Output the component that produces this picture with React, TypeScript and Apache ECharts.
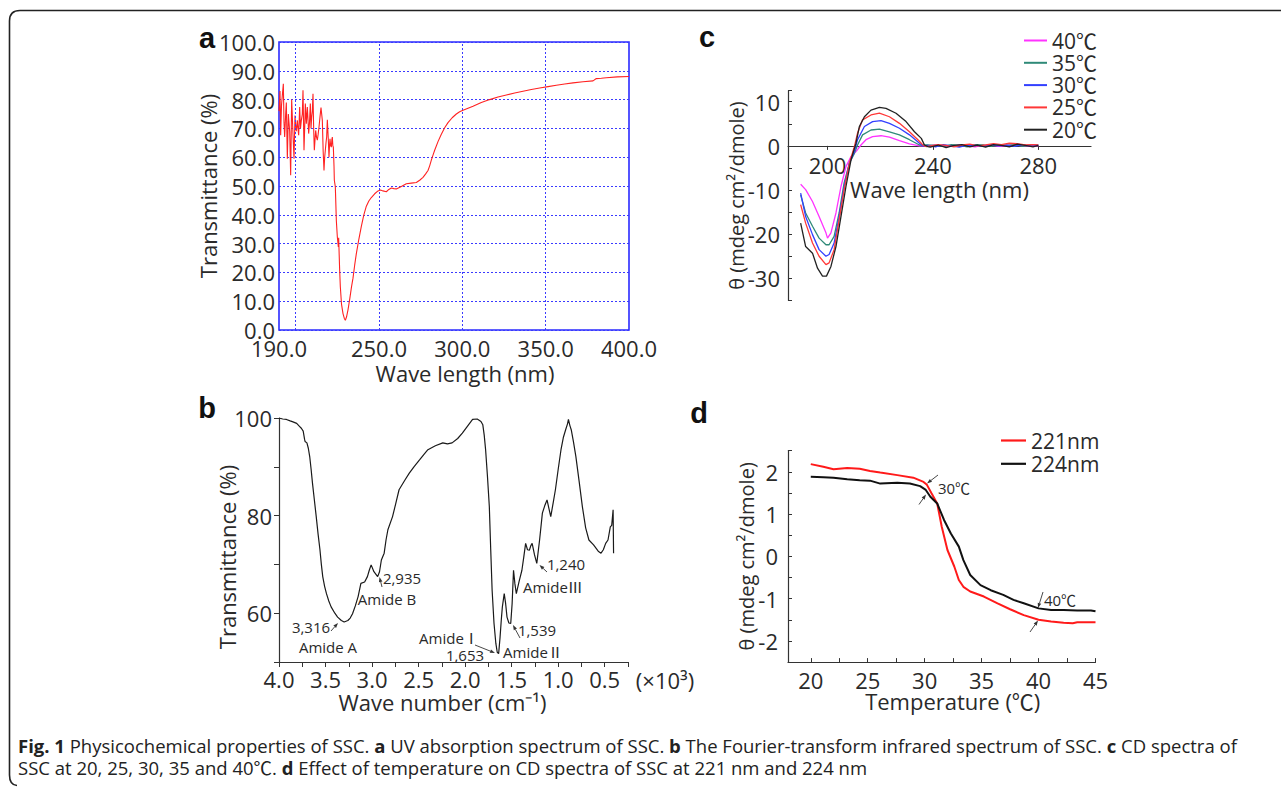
import React, { useEffect, useRef } from "react";
import * as echarts from "echarts";

// ---------- DATA ----------
// Panel a: UV spectrum [wavelength nm, transmittance %]
const uvSpectrum: [number, number][] = [
  [190, 76], [190.6, 83], [191, 67.6], [191.5, 78], [192, 81.5], [192.6, 85.5], [193, 72], [193.4, 67], [194, 75], [194.4, 79],
  [195, 59.5], [195.6, 75], [196, 72], [196.4, 69], [197, 53.7], [197.6, 80], [198, 74], [198.4, 68], [199, 59.5], [199.6, 74.5],
  [200, 71], [200.4, 69], [201, 72.8], [201.4, 70], [201.8, 67.6], [202.4, 77.4], [202.9, 70], [203.4, 72.8], [204, 75], [204.4, 83.2],
  [205, 62.4], [205.4, 70], [205.8, 78.6], [206.4, 71.6], [207, 77.4], [207.4, 73], [207.8, 68.2], [208.3, 72], [208.8, 78.6], [209.2, 70],
  [209.6, 74], [210, 76], [210.4, 82], [210.8, 70], [211.2, 62.4], [211.6, 66], [212, 69.3], [212.5, 67], [213, 65.9], [213.5, 68],
  [214, 70.5], [214.6, 74], [215.2, 77.2], [215.6, 75], [216, 72.8], [216.5, 62], [217, 55.4], [217.4, 60], [217.8, 62.4], [218.2, 65],
  [218.6, 67], [219, 73], [219.2, 72.8], [219.6, 66], [220, 60], [220.3, 64], [220.6, 66.4], [221, 64], [221.4, 63.5], [221.7, 66],
  [222, 67], [222.3, 64], [222.6, 63.5], [223, 57], [223.2, 52], [223.8, 49.7], [224.4, 38], [225, 32.3], [225.6, 28.8], [225.8, 32],
  [226.4, 20.7], [226.8, 15], [227.5, 9], [228.4, 5.7], [229.2, 4], [229.8, 3.4], [230.5, 4.5], [231.4, 7], [232.5, 11], [233.5, 15],
  [234.4, 18], [235.4, 22.5], [236.4, 26.5], [237.9, 31.5], [239.4, 36], [240.9, 40], [242.4, 43], [243.9, 44.8], [245.4, 46], [247.4, 47.3],
  [249.4, 48.3], [250.9, 48.6], [252.4, 48.3], [254.4, 48], [255.9, 48.8], [257.4, 49.3], [259, 49.1], [260.4, 49], [263.4, 49.8], [266.4, 50.8],
  [269.4, 51], [272.4, 51.2], [274.4, 52], [276.4, 53], [278, 54.2], [279.4, 55.4], [280.4, 57], [281.4, 59], [282.4, 60.7], [283.4, 62.4],
  [285.4, 65.4], [287.4, 68], [289.4, 70.2], [291.4, 72], [293.9, 73.7], [296.4, 75], [298.4, 75.8], [300.4, 76.3], [303.4, 77], [306.4, 77.7],
  [311.4, 79], [316.4, 80], [321.4, 80.9], [326.4, 81.6], [331.4, 82.3], [336.4, 82.9], [341.4, 83.5], [346.4, 84], [351.4, 84.5], [356.4, 85],
  [361.4, 85.4], [366.4, 85.8], [372.4, 86.2], [378.4, 86.5], [380.4, 87.3], [383.4, 87.4], [386.4, 87.6], [393, 87.9], [400, 88],
];
const uvXLabels = [190, 250, 300, 350, 400];
const uvXGrid = [200, 250, 300, 350];

// Panel b: FTIR spectrum [wave number ×10³ cm⁻¹, transmittance %]
const irSpectrum: [number, number][] = [
  [4.0, 100], [3.96, 99.8], [3.92, 99.7], [3.88, 99.4], [3.85, 99.2], [3.81, 98.9], [3.78, 98.3], [3.76, 97.9], [3.74, 97.3], [3.725, 95.6],
  [3.72, 95.2], [3.7, 94.9], [3.685, 93.8], [3.67, 92.1], [3.655, 89.5], [3.64, 86.6], [3.62, 83.2], [3.6, 79.8], [3.58, 76.2], [3.56, 73],
  [3.545, 70], [3.53, 67.5], [3.51, 65.5], [3.49, 64], [3.465, 62.5], [3.44, 61.3], [3.4, 60], [3.37, 59.2], [3.33, 58.5], [3.3, 58.2],
  [3.26, 58.5], [3.235, 59], [3.21, 59.9], [3.18, 61.5], [3.15, 63.4], [3.12, 66.1], [3.08, 66.4], [3.05, 67.5], [3.03, 68.8], [3.01, 69.9],
  [2.98, 68.5], [2.94, 67.5], [2.92, 68.5], [2.9, 70.9], [2.87, 72.3], [2.85, 75], [2.83, 77.1], [2.78, 79.8], [2.745, 82.5], [2.71, 85.3],
  [2.65, 87.2], [2.6, 88.7], [2.55, 90], [2.49, 91.4], [2.44, 92.6], [2.4, 93.5], [2.32, 94.3], [2.24, 94.9], [2.19, 94.7], [2.14, 94.9],
  [2.08, 95.8], [2.03, 96.9], [1.98, 98.2], [1.92, 99.7], [1.87, 99.8], [1.83, 99.3], [1.81, 98.6], [1.795, 96.5], [1.78, 93.5], [1.76, 88],
  [1.74, 81.8], [1.725, 73], [1.71, 64.7], [1.69, 58], [1.67, 53.8], [1.655, 52], [1.64, 51.7], [1.625, 55], [1.61, 59], [1.6, 61.3],
  [1.58, 64], [1.565, 62], [1.55, 59.2], [1.53, 58], [1.51, 57.9], [1.495, 62], [1.48, 68.8], [1.465, 66], [1.45, 64], [1.42, 66.5],
  [1.39, 68.8], [1.37, 71.5], [1.35, 74.3], [1.33, 73], [1.31, 72.9], [1.295, 73.8], [1.28, 74.3], [1.255, 72], [1.23, 70.2], [1.2, 75],
  [1.17, 80.5], [1.145, 82], [1.12, 83.2], [1.1, 81.5], [1.08, 79.8], [1.055, 82.5], [1.03, 85.3], [1.0, 89.5], [0.97, 93.5], [0.945, 96],
  [0.92, 97.6], [0.9, 98.8], [0.89, 99.7], [0.875, 98.5], [0.86, 97.6], [0.835, 95], [0.81, 92.1], [0.775, 87], [0.74, 81.8], [0.705, 77.5],
  [0.67, 75], [0.62, 74], [0.57, 72.7], [0.54, 72.3], [0.515, 73], [0.49, 74.3], [0.465, 75], [0.44, 77.7], [0.425, 78], [0.41, 81.2], [0.405, 72.3],
];
const irYLabels = [60, 80, 100];

// Panel c: CD spectra [wavelength nm, θ]
const cdNames = ["40℃", "35℃", "30℃", "25℃", "20℃"];
const cd40: [number, number][] = [
  [189.8, -8.7], [191.7, -9.9], [194.3, -12.6], [196.8, -16], [199.4, -19.7], [200, -20.9], [201.3, -19.7], [203.2, -15.2], [205.1, -9.2],
  [207, -4.7], [208.9, -2.4], [210.8, -1.3], [212.7, 0.2], [214.6, 1.4], [217.1, 2.1], [220.3, 2.3], [223.5, 2], [227.3, 1.2], [231.1, 0.45],
  [234.9, 0], [238, 0], [241, 0.2], [244, 0], [247, -0.1], [250, 0.2], [253, 0], [256, -0.2], [259, 0.1], [262, 0.2], [265, -0.1], [268, 0],
  [271, 0.2], [274, 0], [277, -0.1], [280, 0],
];
const cd35: [number, number][] = [
  [189.8, -11.1], [191.7, -15.2], [194.3, -18.2], [196.8, -20.9], [199.4, -22.4], [200.6, -22.4], [202.5, -20.5], [204.4, -15.2], [206.3, -8.4],
  [208.3, -3.9], [210.2, -1.7], [211.4, 0.2], [213.3, 2.5], [216.5, 3.6], [219.7, 3.8], [223.5, 3.2], [227.3, 2.5], [231.1, 1.4], [234.9, 0.2],
  [238, 0.2], [241, 0.1], [244, -0.1], [247, 0.3], [250, 0.1], [253, -0.2], [256, 0.3], [259, 0.2], [262, -0.1], [265, 0.2], [268, 0.1],
  [271, 0.3], [274, -0.1], [277, 0.2], [280, 0.1],
];
const cd30: [number, number][] = [
  [189.8, -10.7], [191.7, -16], [194.3, -20.1], [196.8, -23.5], [199.4, -25], [200.6, -24.6], [202.5, -22], [204.4, -16], [206.3, -9.2],
  [208.3, -3.9], [210.2, -1.3], [211.4, 1.4], [214, 4.4], [217.1, 5.5], [220.3, 5.7], [223.5, 5.1], [227.3, 4], [231.1, 2.5], [234.9, 0.6],
  [236.2, 0], [238, 0.1], [241, -0.2], [244, 0.3], [247, 0], [250, -0.3], [253, 0.2], [256, 0.1], [259, -0.1], [262, 0.3], [265, 0],
  [268, 0.2], [271, -0.1], [274, 0.3], [277, 0], [280, 0.2],
];
const cd25: [number, number][] = [
  [189.8, -13.3], [191.7, -17.5], [194.3, -22], [196.8, -25], [199.4, -26.9], [200.6, -26.5], [202.5, -23.5], [204.4, -16.7], [206.3, -9.9],
  [208.3, -3.9], [210.2, -0.15], [211.4, 2.9], [213.3, 5.9], [216.5, 7], [219.7, 7.4], [223.5, 6.6], [227.3, 5.1], [231.1, 3.2], [234.3, 1.4],
  [236.2, 0.2], [237.5, -0.15], [239, 0], [242, 0.3], [245, 0.1], [248, -0.2], [251, 0.2], [254, 0.4], [257, 0], [260, 0.2], [263, 0.5],
  [266, 0.3], [269, 0.6], [272, 0.5], [275, 0.2], [278, 0.3], [280, 0.2],
];
const cd20: [number, number][] = [
  [189.8, -17.5], [191.7, -22.8], [194.3, -24.3], [196.2, -27.7], [198.1, -29.5], [199.6, -29.5], [201.3, -27.3], [203.2, -22.8], [205.1, -16],
  [207, -9.2], [208.9, -3.2], [210.8, 0.6], [212.1, 4.4], [214, 6.6], [216.5, 8.1], [219.7, 8.7], [222.2, 8.5], [226, 7.4], [229.8, 5.5],
  [233, 3.2], [235.6, 1.7], [236.8, 0.2], [238.1, -0.15], [239, -0.3], [242, 0.2], [245, -0.4], [248, 0.1], [251, 0.3], [254, -0.2],
  [257, 0.2], [260, -0.3], [263, 0.3], [266, 0.1], [269, -0.2], [272, 0.4], [275, 0.1], [278, -0.2], [280, 0.1],
];
const cdXLabels = [200, 240, 280];

// Panel d: θ vs temperature [℃, θ]
const t221: [number, number][] = [
  [20, 2.18], [21.1, 2.12], [22, 2.06], [23.2, 2.09], [24.3, 2.07], [25.2, 2.02], [26.1, 1.98], [27.6, 1.92], [29, 1.86], [29.9, 1.76],
  [30.2, 1.69], [30.6, 1.49], [31.1, 1.25], [31.5, 0.7], [32, 0.15], [32.6, -0.24], [33, -0.56], [33.4, -0.72], [34, -0.83], [35.2, -0.95],
  [36.4, -1.11], [37.5, -1.25], [38.7, -1.39], [40, -1.5], [41.1, -1.54], [42.2, -1.57], [43, -1.58], [43.4, -1.56], [44.6, -1.56], [45, -1.56],
];
const t224: [number, number][] = [
  [20, 1.88], [21.1, 1.87], [22, 1.86], [23.2, 1.82], [24.3, 1.8], [25.2, 1.79], [26.1, 1.72], [27.6, 1.74], [28.7, 1.72], [29.6, 1.66],
  [30.1, 1.57], [30.5, 1.41], [31.1, 1.25], [31.7, 0.86], [32.3, 0.54], [33, 0.23], [33.4, -0.09], [34, -0.44], [34.9, -0.68], [35.8, -0.8],
  [36.9, -0.91], [37.8, -1.03], [38.7, -1.11], [40, -1.23], [41.1, -1.27], [42.2, -1.27], [43.4, -1.28], [44.6, -1.28], [45, -1.3],
];
const tempXLabels = [20, 25, 30, 35, 40, 45];
const tempXTicks = [20, 22.5, 25, 27.5, 30, 32.5, 35, 37.5, 40, 42.5, 45];

// ---------- LAYOUT / STYLE ----------
const FONT = "'Open Sans', 'Noto Sans CJK KR', sans-serif";
const LETTER_FONT = "'Liberation Sans', Arial, sans-serif";
const TXT = "#2a2a2a";
const AX = "#333";
const GRIDBLUE = "#3a3aff";
const TICK_FS = 22;
const NAME_FS = 22;

const bNotes = [
  { text: "3,316", x: 311, y: 627 },
  { text: "Amide A", x: 328, y: 647 },
  { text: "2,935", x: 402, y: 578 },
  { text: "Amide B", x: 387, y: 599 },
  { text: "AmideⅠ", x: 449, y: 638 },
  { text: "1,653", x: 465, y: 655 },
  { text: "1,539", x: 537, y: 630 },
  { text: "AmideⅡ", x: 533, y: 652 },
  { text: "1,240", x: 566, y: 564 },
  { text: "AmideⅢ", x: 553, y: 587 },
];
const bArrows = [
  [331, 631, 338, 623],
  [382, 587, 379.5, 577],
  [475, 645, 495, 653],
  [520, 638, 513, 625],
  [547, 572, 539.5, 565],
];
const dNotes = [
  { text: "30℃", x: 954, y: 488 },
  { text: "40℃", x: 1060, y: 600 },
];
const dArrows = [
  [938, 475, 927, 483.5],
  [919, 504.5, 926, 494.5],
  [1043, 592, 1038, 608],
  [1030, 632, 1038, 620.5],
];

function arrow(a: number[]) {
  const [x1, y1, x2, y2] = a;
  const ang = Math.atan2(y2 - y1, x2 - x1);
  const L = 5, W = 1.8;
  const bx = x2 - L * Math.cos(ang), by = y2 - L * Math.sin(ang);
  const px = -Math.sin(ang) * W, py = Math.cos(ang) * W;
  return [
    { type: "line", shape: { x1, y1, x2: bx, y2: by }, style: { stroke: "#333", lineWidth: 0.9 }, silent: true },
    { type: "polygon", shape: { points: [[x2, y2], [bx + px, by + py], [bx - px, by - py]] }, style: { fill: "#333" }, silent: true },
  ];
}

const near = (v: number, step: number) => Math.abs(v / step - Math.round(v / step)) < 1e-6;

// panel c grid geometry and y extent (x axis sits on θ = 0)
const C_GRID = { left: 788, top: 90.7, width: 303, height: 209.7 };
const C_YMIN = -35, C_YMAX = 12.5;
const cZeroOffset = -C_GRID.height * (0 - C_YMIN) / (C_YMAX - C_YMIN);

export default function App() {
  const ref = useRef<HTMLDivElement>(null);
  useEffect(() => {
    document.body.style.margin = "0";
    if (!ref.current) return;
    try {
      echarts.graphic.registerShape(
        "figframe",
        echarts.graphic.extendPath("M 1300 10.5 L 20 10.5 Q 9.5 10.5 9.5 21 L 9.5 775 Q 9.5 785 17 785.5", {})
      );
    } catch (e) {}
    const chart = echarts.init(ref.current, null, { renderer: "svg" });

    const labelStyle = { color: TXT, fontSize: TICK_FS, fontFamily: FONT };
    const nameStyle = (extra: any = {}) => ({ color: TXT, fontSize: NAME_FS, fontFamily: FONT, ...extra });
    const lineAx = { show: true, lineStyle: { color: AX, width: 1.2 } };

    const noteTexts = [...bNotes, ...dNotes].map((n) => ({
      type: "text",
      silent: true,
      style: { text: n.text, x: n.x, y: n.y, align: "center", verticalAlign: "middle", fontSize: 15, fontFamily: FONT, fill: TXT },
    }));
    const arrows = [...bArrows, ...dArrows].flatMap(arrow);

    const letters = [
      ["a", 207, 38],
      ["b", 207, 408],
      ["c", 707, 37],
      ["d", 699, 413],
    ].map(([t, x, y]) => ({
      type: "text",
      silent: true,
      style: { text: t, x, y, align: "center", verticalAlign: "middle", fontSize: 29, fontWeight: "bold", fontFamily: LETTER_FONT, fill: "#111" },
    }));

    const CAP_FS = 18.5;
    const capRich = { b: { fontWeight: "bold", fontSize: CAP_FS, fontFamily: FONT, fill: "#222" } };
    const caption = [
      { t: "{b|Fig. 1} Physicochemical properties of SSC. {b|a} UV absorption spectrum of SSC. {b|b} The Fourier-transform infrared spectrum of SSC. {b|c} CD spectra of", y: 745 },
      { t: "SSC at 20, 25, 30, 35 and 40℃. {b|d} Effect of temperature on CD spectra of SSC at 221 nm and 224 nm", y: 767 },
    ].map((c) => ({
      type: "text",
      silent: true,
      style: { text: c.t, x: 18, y: c.y, verticalAlign: "middle", fontSize: CAP_FS, fontFamily: FONT, fill: "#222", rich: capRich },
    }));

    const cdColors = ["#ff33ff", "#2f8a78", "#3340ff", "#ff3838", "#222222"];
    const cdData = [cd40, cd35, cd30, cd25, cd20];

    const option: any = {
      animation: false,
      textStyle: { fontFamily: FONT },
      grid: [
        { left: 279, top: 42, width: 350, height: 288, show: true, borderColor: "#2b2bff", borderWidth: 1.6, backgroundColor: "transparent", containLabel: false, outerBoundsMode: "none" },
        { left: 279, top: 418, width: 349, height: 244, containLabel: false, outerBoundsMode: "none" },
        { ...C_GRID, containLabel: false, outerBoundsMode: "none" },
        { left: 788, top: 450.6, width: 307.5, height: 211.5, containLabel: false, outerBoundsMode: "none" },
      ],
      xAxis: [
        {
          gridIndex: 0, type: "value", min: 190, max: 400,
          axisLine: { show: false }, axisTick: { show: false }, splitLine: { show: false },
          axisLabel: { ...labelStyle, margin: 7, customValues: uvXLabels, formatter: (v: number) => v.toFixed(1) },
          name: "Wave length (nm)", nameLocation: "middle", nameGap: 32, nameMoveOverlap: false,
          nameTextStyle: nameStyle({ padding: [0, 0, 0, 22] }),
        },
        {
          gridIndex: 1, type: "value", min: 0.25, max: 4, interval: 0.25, inverse: true,
          axisLine: { ...lineAx, onZero: false },
          axisTick: { show: true, inside: false, length: 5, lineStyle: { color: AX } },
          splitLine: { show: false },
          axisLabel: { ...labelStyle, margin: 6, formatter: (v: number) => (near(v, 0.5) ? v.toFixed(1) : "") },
          name: "Wave number (cm⁻¹)", nameLocation: "middle", nameGap: 29, nameMoveOverlap: false,
          nameTextStyle: nameStyle({ padding: [0, 22, 0, 0] }),
        },
        {
          gridIndex: 2, type: "value", min: 185, max: 300, position: "bottom", offset: cZeroOffset,
          axisLine: { ...lineAx, onZero: false },
          axisTick: { show: true, inside: false, length: 4, customValues: cdXLabels, lineStyle: { color: AX } },
          splitLine: { show: false },
          axisLabel: { ...labelStyle, margin: 8, customValues: cdXLabels },
          name: "Wave length (nm)", nameLocation: "middle", nameGap: 32, nameMoveOverlap: false,
          nameTextStyle: nameStyle(),
        },
        {
          gridIndex: 3, type: "value", min: 18, max: 45,
          axisLine: { ...lineAx, onZero: false },
          axisTick: { show: true, inside: true, length: 4, customValues: tempXTicks, lineStyle: { color: AX } },
          splitLine: { show: false },
          axisLabel: { ...labelStyle, margin: 7, customValues: tempXLabels },
          name: "Temperature (℃)", nameLocation: "middle", nameGap: 28, nameMoveOverlap: false,
          nameTextStyle: nameStyle({ padding: [0, 0, 0, 22] }),
        },
      ],
      yAxis: [
        {
          gridIndex: 0, type: "value", min: 0, max: 100, interval: 10,
          axisLine: { show: false }, axisTick: { show: false },
          splitLine: { show: true, lineStyle: { color: GRIDBLUE, type: [2, 2], width: 1 } },
          axisLabel: { ...labelStyle, margin: 4, formatter: (v: number) => v.toFixed(1) },
          name: "Transmittance (%)", nameLocation: "middle", nameGap: 60, nameMoveOverlap: false,
          nameTextStyle: nameStyle(),
        },
        {
          gridIndex: 1, type: "value", min: 50, max: 100, interval: 10,
          axisLine: { ...lineAx, onZero: false },
          axisTick: { show: true, inside: false, length: 5, lineStyle: { color: AX } },
          splitLine: { show: false },
          axisLabel: { ...labelStyle, margin: 7, formatter: (v: number) => (irYLabels.includes(v) ? String(v) : "") },
          name: "Transmittance (%)", nameLocation: "middle", nameGap: 41, nameMoveOverlap: false,
          nameTextStyle: nameStyle({ padding: [0, 34, 0, 0] }),
        },
        {
          gridIndex: 2, type: "value", min: C_YMIN, max: C_YMAX, interval: 5,
          axisLine: { ...lineAx, onZero: false },
          axisTick: { show: true, inside: true, length: 4, lineStyle: { color: AX } },
          splitLine: { show: false },
          axisLabel: { ...labelStyle, margin: 8, formatter: (v: number) => (near(v, 10) ? String(v) : "") },
          name: "θ (mdeg cm²/dmole)", nameLocation: "middle", nameGap: 42, nameMoveOverlap: false,
          nameTextStyle: nameStyle({ fontSize: 20 }),
        },
        {
          gridIndex: 3, type: "value", min: -2.5, max: 2.5, interval: 0.5,
          axisLine: { ...lineAx, onZero: false },
          axisTick: { show: true, inside: true, length: 4, lineStyle: { color: AX } },
          splitLine: { show: false },
          axisLabel: { ...labelStyle, margin: 10, formatter: (v: number) => (near(v, 1) ? String(Math.round(v)) : "") },
          name: "θ (mdeg cm²/dmole)", nameLocation: "middle", nameGap: 32, nameMoveOverlap: false,
          nameTextStyle: nameStyle({ fontSize: 20 }),
        },
      ],
      legend: [
        {
          data: cdNames, orient: "vertical", left: 1024, top: 30, itemWidth: 23, itemHeight: 2, itemGap: 1.3, icon: "rect",
          selectedMode: false, padding: 0,
          textStyle: { color: TXT, fontSize: 21, fontFamily: FONT, lineHeight: 21 },
        },
        {
          data: ["221nm", "224nm"], orient: "vertical", left: 1001, top: 430, itemWidth: 25, itemHeight: 2.2, itemGap: 2.3, icon: "rect",
          selectedMode: false, padding: 0,
          textStyle: { color: TXT, fontSize: 21, fontFamily: FONT, lineHeight: 21 },
        },
      ],
      series: [
        {
          name: "UV", type: "line", xAxisIndex: 0, yAxisIndex: 0, data: uvSpectrum, symbol: "none", showSymbol: false,
          lineStyle: { color: "#ff2222", width: 1.1 }, itemStyle: { color: "#ff2222" },
          markLine: {
            silent: true, symbol: ["none", "none"], label: { show: false }, animation: false,
            lineStyle: { color: GRIDBLUE, type: [2, 2], width: 1 },
            emphasis: { disabled: true },
            data: uvXGrid.map((v) => ({ xAxis: v })),
          },
          z: 3,
        },
        {
          name: "IR", type: "line", xAxisIndex: 1, yAxisIndex: 1, data: irSpectrum, symbol: "none", showSymbol: false,
          lineStyle: { color: "#1a1a1a", width: 1.2 }, itemStyle: { color: "#1a1a1a" },
        },
        ...cdNames.map((n, i) => ({
          name: n, type: "line", xAxisIndex: 2, yAxisIndex: 2, data: cdData[i], symbol: "none", showSymbol: false,
          lineStyle: { color: cdColors[i], width: 1.3 }, itemStyle: { color: cdColors[i] },
        })),
        {
          name: "221nm", type: "line", xAxisIndex: 3, yAxisIndex: 3, data: t221, symbol: "none", showSymbol: false,
          lineStyle: { color: "#ff1a1a", width: 2 }, itemStyle: { color: "#ff1a1a" },
        },
        {
          name: "224nm", type: "line", xAxisIndex: 3, yAxisIndex: 3, data: t224, symbol: "none", showSymbol: false,
          lineStyle: { color: "#111111", width: 2 }, itemStyle: { color: "#111111" },
        },
      ],
      graphic: [
        { type: "figframe", x: 0, y: 0, silent: true, style: { fill: "none", stroke: "#222", lineWidth: 1.6 } },
        ...letters,
        {
          type: "text", silent: true,
          style: { text: "(×10³)", x: 665, y: 680, align: "center", verticalAlign: "middle", fontSize: TICK_FS, fontFamily: FONT, fill: TXT },
        },
        ...noteTexts,
        ...arrows,
        ...caption,
      ],
    };
    chart.setOption(option);
    return () => chart.dispose();
  }, []);
  return <div ref={ref} style={{ width: 1281, height: 787 }} />;
}
